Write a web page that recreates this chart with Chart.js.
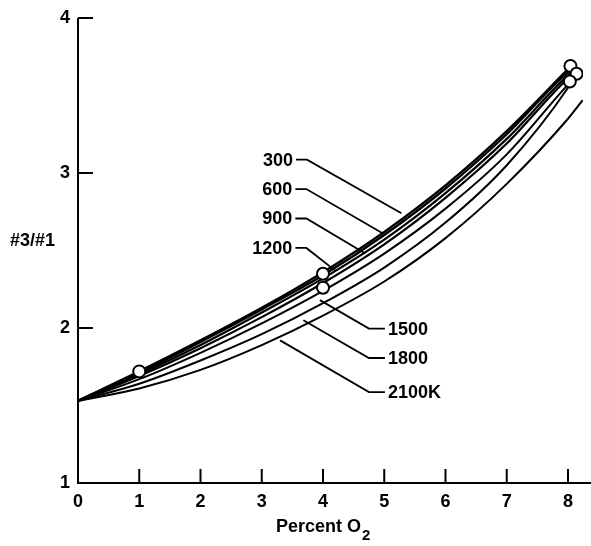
<!DOCTYPE html>
<html><head><meta charset="utf-8">
<script src="https://cdn.jsdelivr.net/npm/chart.js@4/dist/chart.umd.min.js"></script>
<style>html,body{margin:0;padding:0;background:#fff}</style>
</head><body>
<canvas id="c" width="591" height="546"></canvas>
<script>
const FONT = '"Liberation Sans", Arial, sans-serif';
const xValues = [0,1,2,3,4,5,6,7,8];
const seriesNames = ['300','600','900','1200','1500','1800','2100K'];
const s300  = [1.53,1.72,1.92,2.13,2.36,2.62,2.92,3.27,3.67];
const s600  = [1.53,1.71,1.91,2.12,2.34,2.60,2.90,3.25,3.65];
const s900  = [1.53,1.70,1.89,2.10,2.32,2.57,2.87,3.22,3.63];
const s1200 = [1.53,1.69,1.87,2.07,2.29,2.54,2.84,3.19,3.61];
const s1500 = [1.53,1.67,1.84,2.03,2.24,2.48,2.77,3.12,3.57];
const s1800 = [1.53,1.64,1.79,1.96,2.16,2.39,2.68,3.05,3.55];
const s2100 = [1.53,1.61,1.73,1.89,2.08,2.30,2.58,2.93,3.35];
const endX = [8.05,8.08,8.10,8.10,8.05,8.03,8.24];
const endY = [3.69,3.67,3.66,3.64,3.59,3.57,3.47];
const seriesWidths = [2.4,2.4,2.2,2.2,2,2,2];

const circleX = [1,4,4,8.04,8.14,8.03];
const circleY = [1.72,2.35,2.26,3.69,3.64,3.59];

const xTicks = [0,1,2,3,4,5,6,7,8];
const yTicks = [1,2,3,4];

const labelSide = ['left','left','left','left','right','right','right'];
const labelX = [3.51,3.50,3.50,3.50,5.06,5.06,5.06];
const labelY = [3.08,2.89,2.70,2.51,1.99,1.80,1.58];
const leaderEndX = [5.28,4.98,4.69,4.20,3.95,3.68,3.30];
const leaderEndY = [2.74,2.61,2.48,2.37,2.18,2.05,1.92];

const xTitle = 'Percent O';
const xTitleSub = '2';
const yTitle = '#3/#1';

const allSeries = [s300,s600,s900,s1200,s1500,s1800,s2100];
const datasets = [];
datasets.push({
  type:'scatter', label:'points',
  data: circleX.map((x,i)=>({x:x,y:circleY[i]})),
  pointRadius:6, pointBorderWidth:2, pointBackgroundColor:'#fff', pointBorderColor:'#000',
  showLine:false, order:0
});
allSeries.forEach((s,k)=>{
  const pts = xValues.map((x,i)=>({x:x,y:s[i]}));
  pts.push({x:endX[k], y:endY[k]});
  datasets.push({
    type:'line', label:seriesNames[k], data:pts,
    borderColor:'#000', borderWidth:seriesWidths[k], pointRadius:0,
    cubicInterpolationMode:'monotone', fill:false, order:1
  });
});

const decor = {
  id:'decor',
  afterDraw(chart){
    const ctx = chart.ctx, xs = chart.scales.x, ys = chart.scales.y, a = chart.chartArea;
    ctx.save();
    ctx.strokeStyle = '#000'; ctx.lineWidth = 2; ctx.lineCap = 'butt';
    ctx.beginPath();
    ctx.moveTo(a.left, a.top); ctx.lineTo(a.left, a.bottom); ctx.lineTo(chart.width, a.bottom);
    ctx.stroke();
    ctx.beginPath();
    yTicks.forEach(v=>{ if(v===1) return; const p = ys.getPixelForValue(v); ctx.moveTo(a.left, p); ctx.lineTo(a.left+15, p); });
    xTicks.forEach(v=>{ if(v===0) return; const p = xs.getPixelForValue(v); ctx.moveTo(p, a.bottom); ctx.lineTo(p, a.bottom-14); });
    ctx.stroke();
    ctx.lineWidth = 1.8;
    ctx.font = 'bold 18px ' + FONT; ctx.fillStyle = '#000'; ctx.textBaseline = 'middle';
    seriesNames.forEach((n,i)=>{
      const tx = xs.getPixelForValue(labelX[i]), ty = ys.getPixelForValue(labelY[i]);
      const ex = xs.getPixelForValue(leaderEndX[i]), ey = ys.getPixelForValue(leaderEndY[i]);
      ctx.beginPath();
      if(labelSide[i]==='left'){
        ctx.textAlign = 'right'; ctx.fillText(n, tx, ty);
        ctx.moveTo(tx+3, ty-1); ctx.lineTo(tx+14, ty-1);
      } else {
        ctx.textAlign = 'left'; ctx.fillText(n, tx, ty);
        ctx.moveTo(tx-3, ty-1); ctx.lineTo(tx-19, ty-1);
      }
      ctx.lineTo(ex, ey); ctx.stroke();
    });
    ctx.textAlign = 'left'; ctx.textBaseline = 'middle';
    ctx.font = 'bold 18px ' + FONT;
    ctx.fillText(yTitle, 10, 241);
    const w = ctx.measureText(xTitle).width;
    ctx.fillText(xTitle, 276, 527);
    ctx.font = 'bold 15px ' + FONT;
    ctx.fillText(xTitleSub, 276 + w + 1, 536);
    ctx.restore();
  }
};

new Chart(document.getElementById('c'), {
  data:{ datasets: datasets },
  options:{
    responsive:false, animation:false, devicePixelRatio:1,
    layout:{padding:{top:18,right:0,left:0,bottom:0}},
    plugins:{legend:{display:false}, tooltip:{enabled:false}},
    scales:{
      x:{type:'linear', min:0, max:8.245,
         afterBuildTicks:s=>{ s.ticks = xTicks.map(v=>({value:v})); },
         afterFit:s=>{ s.height = 63; s.paddingRight = 0; s.paddingLeft = 0; },
         grid:{display:false, drawTicks:false}, border:{display:false},
         ticks:{font:{family:FONT,size:18,weight:'bold'}, color:'#000', padding:8, maxRotation:0, autoSkip:false}},
      y:{type:'linear', min:1, max:4,
         afterBuildTicks:s=>{ s.ticks = yTicks.map(v=>({value:v})); },
         afterFit:s=>{ s.width = 78; s.paddingTop = 0; s.paddingBottom = 0; },
         grid:{display:false, drawTicks:false}, border:{display:false},
         ticks:{font:{family:FONT,size:18,weight:'bold'}, color:'#000', padding:8, autoSkip:false}}
    }
  },
  plugins:[decor]
});
</script>
</body></html>
